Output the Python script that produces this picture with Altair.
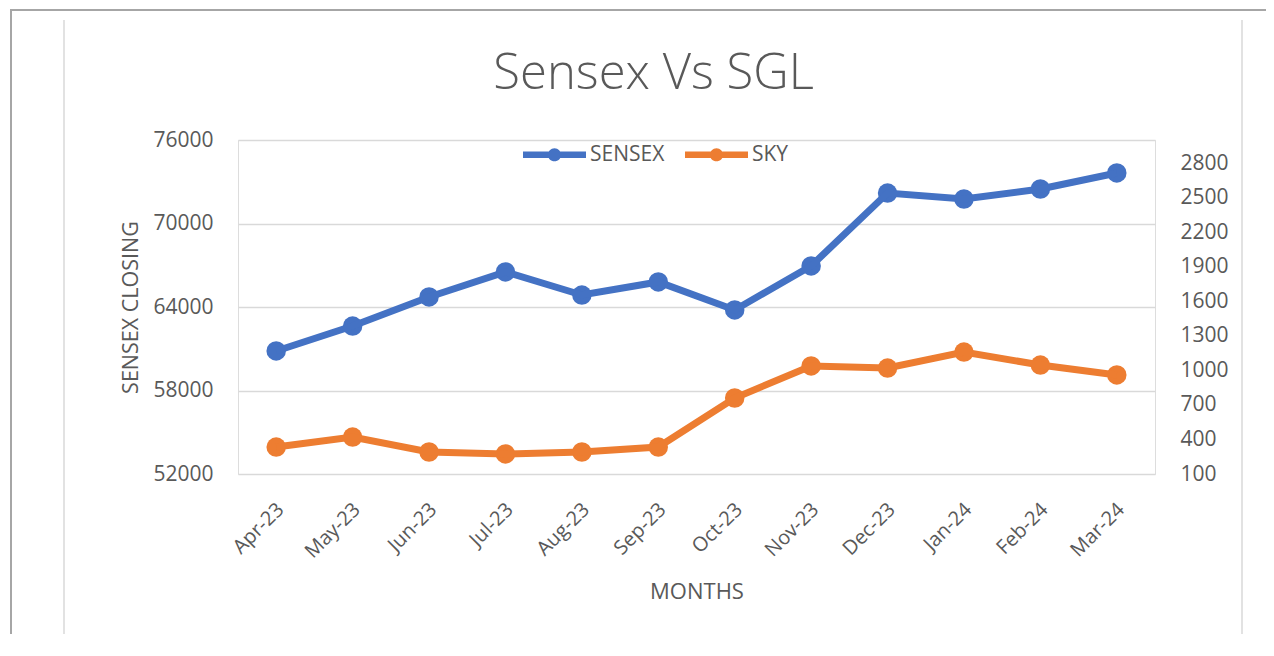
import altair as alt
import pandas as pd

months = ["Apr-23", "May-23", "Jun-23", "Jul-23", "Aug-23", "Sep-23",
          "Oct-23", "Nov-23", "Dec-23", "Jan-24", "Feb-24", "Mar-24"]
sensex = [60840, 62630, 64720, 66520, 64860, 65800,
          63790, 66950, 72190, 71760, 72480, 73630]
sky = [334, 421, 291, 274, 291, 334, 760, 1038, 1020, 1159, 1046, 960]
series_names = ["SENSEX", "SKY"]
series_colors = ["#4472C4", "#ED7D31"]
left_ticks = [52000, 58000, 64000, 70000, 76000]
right_ticks = [100, 400, 700, 1000, 1300, 1600, 1900, 2200, 2500, 2800]

df = pd.DataFrame({
    "month": months * 2,
    "series": ["SENSEX"] * len(months) + ["SKY"] * len(months),
    "value": sensex + sky,
})

TXT = "#595959"
FONT = "Open Sans"

legend_symbol = ("M-1,-0.1H1V0.1H-1Z "
                 "M-0.21,0A0.21,0.21 0 1,1 0.21,0A0.21,0.21 0 1,1 -0.21,0Z")

color_scale = alt.Scale(domain=series_names, range=series_colors)
legend = alt.Legend(
    title=None, orient="none", legendX=285, legendY=-17, direction="horizontal",
    symbolType=legend_symbol, symbolSize=3969, symbolStrokeWidth=0,
    labelFontSize=21, labelColor=TXT, labelFont=FONT, labelOffset=4,
    columnPadding=20,
)
color_enc = alt.Color("series:N", scale=color_scale, legend=legend)

x_enc = alt.X(
    "month:N", sort=months,
    axis=alt.Axis(
        title="MONTHS", labelAngle=-45, labelFontSize=20, labelColor=TXT,
        labelFont=FONT, labelPadding=25, labelOffset=-3, domain=False,
        ticks=False, titleFontSize=22, titleColor=TXT, titleFont=FONT,
        titleFontWeight="normal", titlePadding=20,
    ),
)

base = alt.Chart(df)

y_left = alt.Y(
    "value:Q",
    scale=alt.Scale(domain=[52000, 76000], nice=False, zero=False),
    axis=alt.Axis(
        values=left_ticks, format="d", title="SENSEX CLOSING",
        grid=True, gridColor="#D9D9D9", gridWidth=1.5,
        domain=False, ticks=False, labelFontSize=21, labelColor=TXT,
        labelFont=FONT, labelPadding=25, titleFontSize=21.5, titleColor=TXT,
        titleFont=FONT, titleFontWeight="normal", titlePadding=10,
    ),
)
y_right = alt.Y(
    "value:Q",
    scale=alt.Scale(domain=[100, 3000], nice=False, zero=False),
    axis=alt.Axis(
        values=right_ticks, format="d", title=None, orient="right",
        grid=False, domain=False, ticks=False, labelFontSize=21,
        labelColor=TXT, labelFont=FONT, labelPadding=25,
    ),
)

sen = base.transform_filter(alt.datum.series == "SENSEX")
sk = base.transform_filter(alt.datum.series == "SKY")

sen_layer = alt.layer(
    sen.mark_circle(size=380, opacity=1).encode(x=x_enc, y=y_left, color=color_enc),
    sen.mark_line(strokeWidth=7).encode(x=x_enc, y=y_left, color=color_enc),
)
sky_layer = alt.layer(
    sk.mark_circle(size=380, opacity=1).encode(x=x_enc, y=y_right, color=color_enc),
    sk.mark_line(strokeWidth=7).encode(x=x_enc, y=y_right, color=color_enc),
)

frame_df = pd.DataFrame({"k": [0]})
fb = alt.Chart(frame_df)
frame = alt.layer(
    fb.mark_rule(color="#A6A6A6", strokeWidth=2).encode(
        x=alt.value(-227), x2=alt.value(1040), y=alt.value(-130)),
    fb.mark_rule(color="#A6A6A6", strokeWidth=2).encode(
        x=alt.value(-227), y=alt.value(-131), y2=alt.value(520)),
    fb.mark_rule(color="#D9D9D9", strokeWidth=1.5).encode(
        x=alt.value(-174), y=alt.value(-120), y2=alt.value(520)),
    fb.mark_rule(color="#D9D9D9", strokeWidth=1.5).encode(
        x=alt.value(1004), y=alt.value(-120), y2=alt.value(520)),
)

chart = alt.layer(sen_layer, sky_layer, frame).resolve_scale(
    y="independent"
).properties(
    width=917, height=334,
    title=alt.TitleParams(
        "Sensex Vs SGL", fontSize=49, font=FONT, fontWeight=300,
        color=TXT, anchor="middle", dx=-43, dy=150, offset=20,
        baseline="alphabetic",
    ),
    padding={"left": 230, "top": 132, "right": 111, "bottom": 160},
    autosize=alt.AutoSizeParams(type="none"),
).configure_view(strokeWidth=0).configure(background="white")

chart.save("out.html", embed_options={"renderer": "svg", "actions": False})
